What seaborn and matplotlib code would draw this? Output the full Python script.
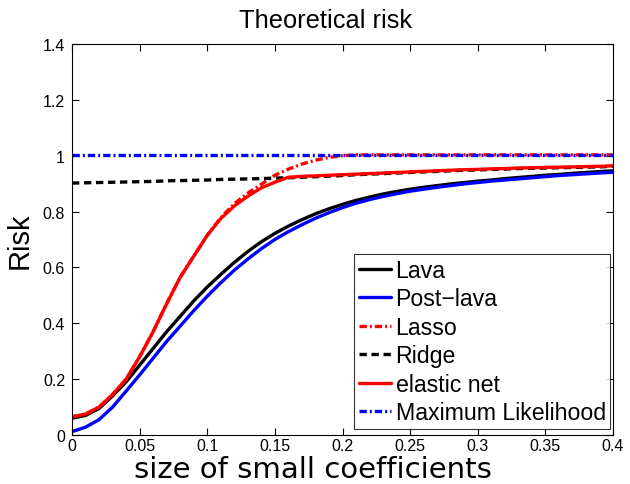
import matplotlib
matplotlib.use("Agg")
import matplotlib.pyplot as plt
import seaborn as sns
import pandas as pd

x = [0.00, 0.01, 0.02, 0.03, 0.04, 0.05, 0.06, 0.07, 0.08, 0.09,
     0.10, 0.11, 0.12, 0.13, 0.14, 0.15, 0.16, 0.17, 0.18, 0.19,
     0.20, 0.21, 0.22, 0.23, 0.24, 0.25, 0.26, 0.27, 0.28, 0.29,
     0.30, 0.31, 0.32, 0.33, 0.34, 0.35, 0.36, 0.37, 0.38, 0.39, 0.40]

lava = [0.060, 0.070, 0.095, 0.140, 0.190, 0.250, 0.310, 0.370, 0.425, 0.480,
        0.530, 0.575, 0.618, 0.657, 0.692, 0.722, 0.748, 0.771, 0.792, 0.810,
        0.826, 0.840, 0.852, 0.863, 0.872, 0.880, 0.887, 0.893, 0.899, 0.904,
        0.909, 0.913, 0.918, 0.922, 0.926, 0.930, 0.933, 0.937, 0.940, 0.943, 0.946]

post_lava = [0.012, 0.028, 0.055, 0.100, 0.157, 0.215, 0.275, 0.335, 0.390, 0.445,
             0.497, 0.545, 0.590, 0.630, 0.667, 0.700, 0.728, 0.753, 0.776, 0.796,
             0.814, 0.830, 0.843, 0.854, 0.864, 0.873, 0.880, 0.887, 0.893, 0.899,
             0.904, 0.909, 0.913, 0.917, 0.921, 0.925, 0.929, 0.932, 0.935, 0.938, 0.941]

lasso = [0.065, 0.075, 0.100, 0.145, 0.200, 0.280, 0.370, 0.470, 0.565, 0.640,
         0.715, 0.778, 0.828, 0.866, 0.898, 0.930, 0.952, 0.970, 0.984, 0.994,
         1.000, 1.003, 1.003, 1.003, 1.003, 1.003, 1.003, 1.003, 1.003, 1.003,
         1.003, 1.003, 1.003, 1.003, 1.003, 1.003, 1.003, 1.003, 1.003, 1.003, 1.003]

ridge = [0.902, 0.903, 0.904, 0.905, 0.906, 0.907, 0.908, 0.910, 0.911, 0.912,
         0.913, 0.915, 0.916, 0.917, 0.918, 0.920, 0.921, 0.923, 0.925, 0.927,
         0.929, 0.932, 0.934, 0.936, 0.938, 0.940, 0.942, 0.944, 0.946, 0.948,
         0.949, 0.951, 0.952, 0.954, 0.955, 0.956, 0.957, 0.958, 0.959, 0.960, 0.962]

elastic_net = [0.065, 0.075, 0.100, 0.145, 0.200, 0.280, 0.370, 0.470, 0.565, 0.640,
               0.715, 0.775, 0.820, 0.855, 0.885, 0.905, 0.923, 0.926, 0.928, 0.930,
               0.932, 0.934, 0.936, 0.938, 0.940, 0.942, 0.944, 0.946, 0.948, 0.950,
               0.951, 0.953, 0.954, 0.956, 0.957, 0.958, 0.959, 0.960, 0.961, 0.962, 0.964]

max_lik = [1.003] * len(x)

series_names = ["Lava", "Post\u2212lava", "Lasso", "Ridge", "elastic net", "Maximum Likelihood"]
series_vals = [lava, post_lava, lasso, ridge, elastic_net, max_lik]
colors = ["black", "blue", "red", "black", "red", "blue"]
dashes = [None, None, (2.2, 0.9, 0.6, 0.9), (2.2, 1.4), None, (2.2, 0.9, 0.6, 0.9)]

x_ticks = [0, 0.05, 0.1, 0.15, 0.2, 0.25, 0.3, 0.35, 0.4]
x_tick_labels = ["0", "0.05", "0.1", "0.15", "0.2", "0.25", "0.3", "0.35", "0.4"]
y_ticks = [0, 0.2, 0.4, 0.6, 0.8, 1.0, 1.2, 1.4]
y_tick_labels = ["0", "0.2", "0.4", "0.6", "0.8", "1", "1.2", "1.4"]

sns.set_style("ticks")
plt.rcParams["font.family"] = ["Liberation Sans", "DejaVu Sans"]
plt.rcParams["text.color"] = "black"
plt.rcParams["axes.labelcolor"] = "black"
plt.rcParams["xtick.color"] = "black"
plt.rcParams["ytick.color"] = "black"

fig = plt.figure(figsize=(6.3, 4.85), dpi=100)
ax_l, ax_b, ax_w, ax_h = 72 / 630, 1 - 436 / 485, 541 / 630, 391 / 485
ax = fig.add_axes([ax_l, ax_b, ax_w, ax_h])

for name, vals, c, d in zip(series_names, series_vals, colors, dashes):
    df = pd.DataFrame({"x": x, "y": vals})
    sns.lineplot(data=df, x="x", y="y", ax=ax, color=c, linewidth=2.4, label=name)
    ln = ax.lines[-1]
    if d is not None:
        ln.set_dashes(d)

ax.set_xlim(0, 0.4)
ax.set_ylim(0, 1.4)
ax.set_xticks(x_ticks)
ax.set_xticklabels(x_tick_labels, fontsize=11.5)
ax.set_yticks(y_ticks)
ax.set_yticklabels(y_tick_labels, fontsize=11.5)
ax.tick_params(direction="in", length=5, width=0.8, top=True, right=True,
               colors="black", labelcolor="black")
ax.tick_params(axis="x", pad=2.5)
ax.tick_params(axis="y", pad=5)
for s in ax.spines.values():
    s.set_linewidth(0.8)
    s.set_visible(True)
    s.set_color("black")

ax.set_title("Theoretical risk", fontsize=18.3, pad=12, color="black")
ax.title.set_x((326 - 72) / 541)

ax.set_xlabel("size of small coefficients", fontsize=21, family=["DejaVu Sans"], color="black")
ax.xaxis.label.set_va("baseline")
ax.xaxis.set_label_coords((313 - 72) / 541, -(478 - 436) / 391)

ax.set_ylabel("Risk", fontsize=21, color="black")
ax.yaxis.set_label_coords(-(72 - 20) / 541, (436 - 241) / 391)
ax.yaxis.label.set_va("center")

leg = ax.legend(loc="lower right", bbox_to_anchor=(0.995, 0.015), borderaxespad=0,
                fontsize=16.7, frameon=True, fancybox=False, handlelength=1.4,
                handletextpad=0.18, labelspacing=0.24, borderpad=0.2)
leg.get_frame().set_edgecolor("black")
leg.get_frame().set_linewidth(0.8)
for t in leg.get_texts():
    t.set_color("black")

fig.savefig("out.png", dpi=100)
